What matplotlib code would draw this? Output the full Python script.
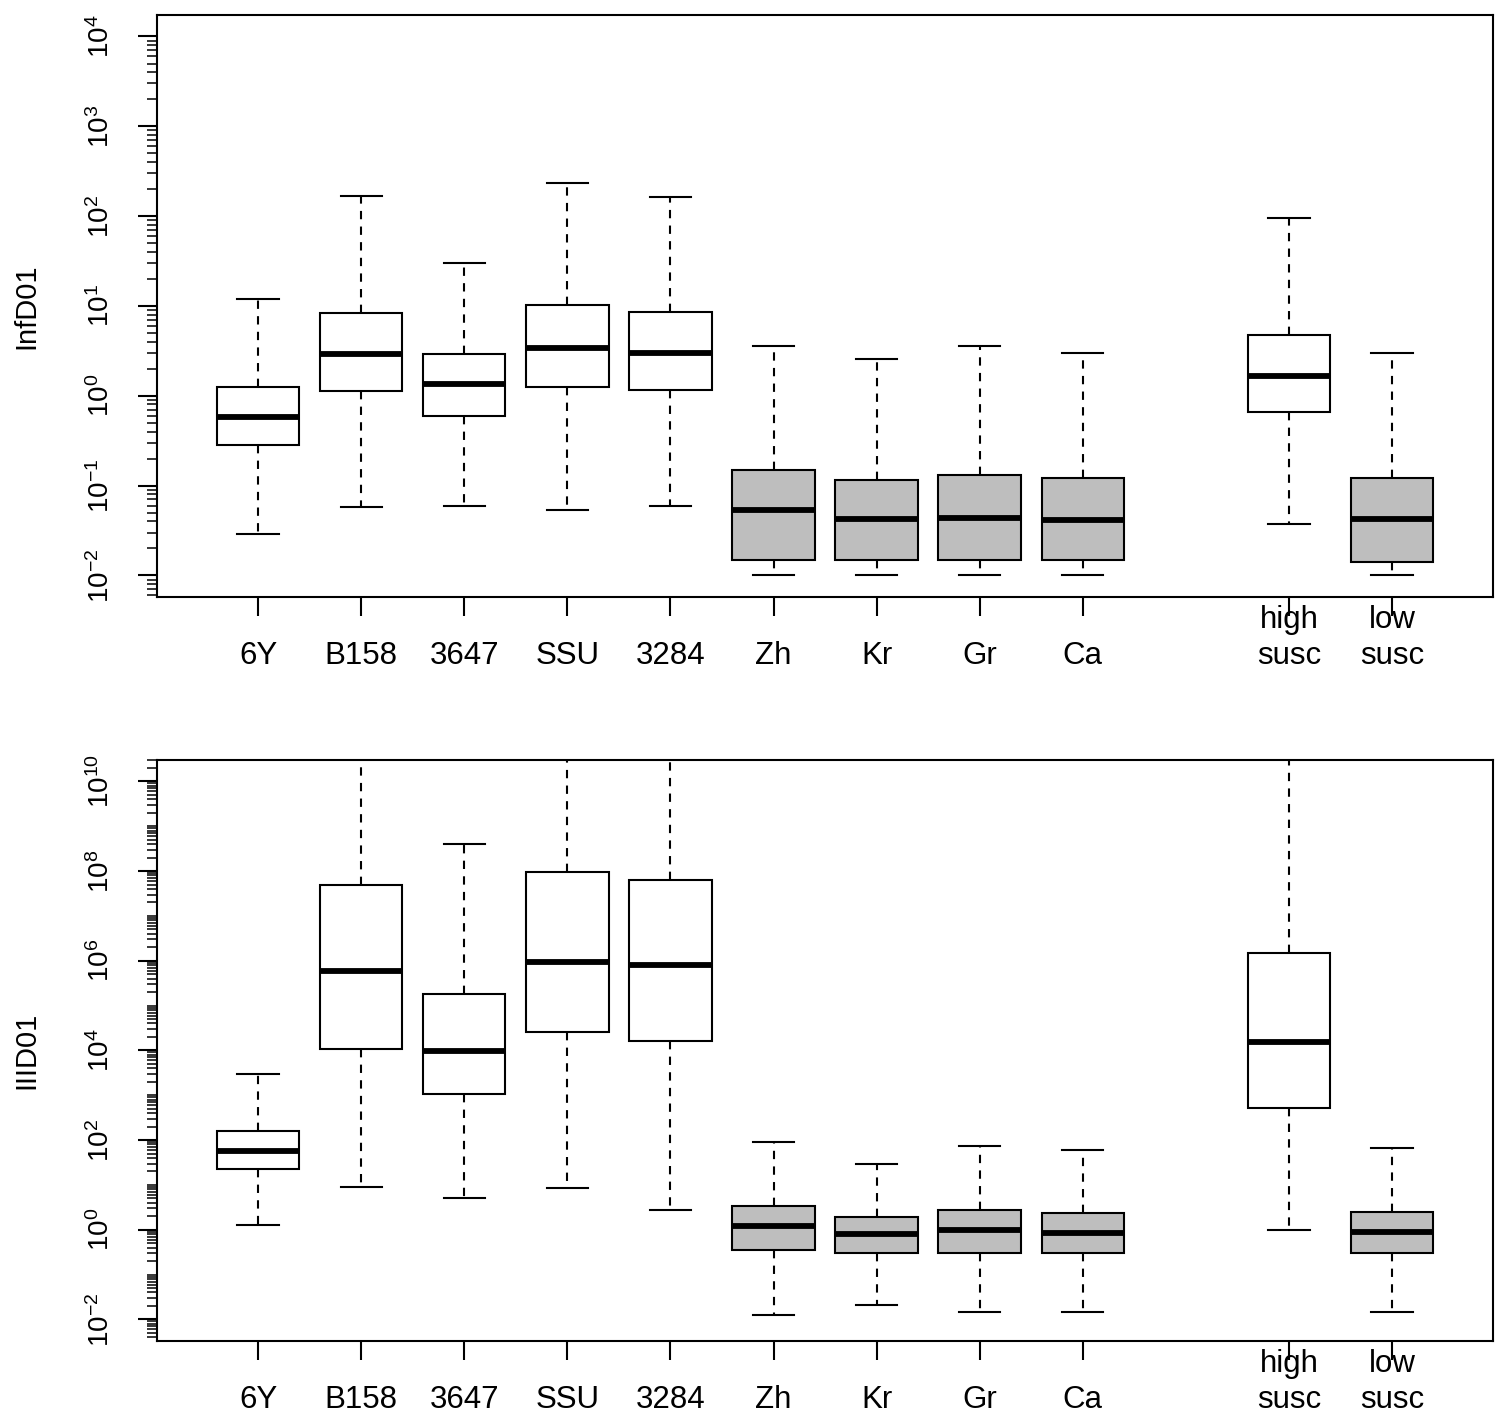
import matplotlib
matplotlib.use("Agg")
import matplotlib.pyplot as plt
from matplotlib.ticker import FixedLocator, FixedFormatter, NullFormatter

plt.rcParams['font.family'] = ['Liberation Sans', 'DejaVu Sans']
plt.rcParams['mathtext.fontset'] = 'custom'
plt.rcParams['mathtext.rm'] = 'Liberation Sans'
plt.rcParams['mathtext.it'] = 'Liberation Sans'
plt.rcParams['mathtext.bf'] = 'Liberation Sans:bold'

# ---------------- data ----------------
labels = ['6Y', 'B158', '3647', 'SSU', '3284', 'Zh', 'Kr', 'Gr', 'Ca', 'high\nsusc', 'low\nsusc']
positions = [1, 2, 3, 4, 5, 6, 7, 8, 9, 11, 12]
fills = ['white'] * 5 + ['#bebebe'] * 4 + ['white', '#bebebe']

# InfD01 (top panel)
inf_whislo = [0.029, 0.058, 0.060, 0.054, 0.059, 0.0102, 0.0102, 0.0102, 0.0102, 0.037, 0.0102]
inf_q1     = [0.28, 1.12, 0.60, 1.24, 1.17, 0.0150, 0.0147, 0.0147, 0.0147, 0.66, 0.0140]
inf_med    = [0.58, 2.9, 1.35, 3.4, 3.0, 0.053, 0.042, 0.044, 0.041, 1.65, 0.043]
inf_q3     = [1.24, 8.3, 2.9, 10.2, 8.5, 0.148, 0.115, 0.130, 0.120, 4.7, 0.123]
inf_whishi = [11.8, 166, 30, 234, 162, 3.55, 2.55, 3.55, 2.97, 95, 3.0]

# IIID01 (bottom panel)
iii_whislo = [1.3, 9.2, 5.2, 8.7, 2.7, 0.0124, 0.021, 0.0145, 0.015, 1.0, 0.015]
iii_q1     = [23, 1.1e4, 1070, 2.6e4, 1.6e4, 0.36, 0.30, 0.30, 0.30, 516, 0.30]
iii_med    = [56, 5.8e5, 9.8e3, 9.2e5, 7.9e5, 1.23, 0.81, 1.0, 0.86, 1.56e4, 0.90]
iii_q3     = [158, 4.9e7, 1.8e5, 9.6e7, 6.3e7, 3.4, 1.96, 2.8, 2.4, 1.5e6, 2.5]
iii_whishi = [3000, 1e12, 4e8, 1e12, 1e12, 89, 30, 73, 59, 1e12, 66]

# ---------------- figure ----------------
fig = plt.figure(figsize=(15, 14.22), dpi=100)
ax_top = fig.add_axes([0.1047, 0.5802, 0.8907, 0.4093])
ax_bot = fig.add_axes([0.1047, 0.0570, 0.8907, 0.4086])

LW = 1.5


def draw_panel(ax, whislo, q1, med, q3, whishi, ylab, major_exps, label_exps, ymin_exp, ymax_exp):
    stats = []
    for lo, a, m, b, hi in zip(whislo, q1, med, q3, whishi):
        stats.append(dict(whislo=lo, q1=a, med=m, q3=b, whishi=hi, fliers=[]))
    bp = ax.bxp(stats, positions=positions, widths=0.8, capwidths=0.4,
                patch_artist=True, showfliers=False,
                boxprops=dict(linewidth=LW, edgecolor='black'),
                medianprops=dict(linewidth=4.2, color='black', solid_capstyle='butt'),
                whiskerprops=dict(linewidth=LW, color='black', linestyle=(0, (4, 3.5))),
                capprops=dict(linewidth=LW, color='black'))
    for patch, fc in zip(bp['boxes'], fills):
        patch.set_facecolor(fc)
    ax.set_yscale('log')
    ax.set_ylim(10 ** ymin_exp, 10 ** ymax_exp)
    ax.set_xlim(0.02, 12.98)

    # y ticks
    majors = [10.0 ** e for e in major_exps]
    minors = []
    lo_e = int(ymin_exp) - 1
    hi_e = int(ymax_exp) + 1
    for e in range(lo_e, hi_e + 1):
        for k in range(1, 10):
            v = k * 10.0 ** e
            if v not in majors:
                minors.append(v)
    ax.yaxis.set_major_locator(FixedLocator(majors))
    ax.yaxis.set_major_formatter(FixedFormatter(
        ['$10^{%d}$' % e if e in label_exps else '' for e in major_exps]))
    ax.yaxis.set_minor_locator(FixedLocator(minors))
    ax.yaxis.set_minor_formatter(NullFormatter())
    ax.tick_params(axis='y', which='major', length=14, width=LW, direction='out',
                   labelsize=20, pad=16, labelrotation=90)
    ax.tick_params(axis='y', which='minor', length=7, width=1.1, direction='out')
    for t in ax.get_yticklabels():
        t.set_va('center')

    # x ticks (labels drawn as text so multi-line labels align at the bottom line)
    ax.set_xticks(positions)
    ax.set_xticklabels([])
    ax.tick_params(axis='x', which='major', length=14, width=LW, direction='out')
    ax.tick_params(axis='x', which='minor', bottom=False)
    for x, lab in zip(positions, labels):
        lines = lab.split('\n')
        for i, line in enumerate(reversed(lines)):
            off = -48 + 26 * i
            ax.annotate(line, xy=(x, 0), xycoords=('data', 'axes fraction'),
                        xytext=(0, off), textcoords='offset points',
                        ha='center', va='baseline', fontsize=22.5, annotation_clip=False)

    for sp in ax.spines.values():
        sp.set_linewidth(LW)
    ax.set_ylabel(ylab, fontsize=21)
    ax.yaxis.set_label_coords(-0.087, 0.5)


draw_panel(ax_top, inf_whislo, inf_q1, inf_med, inf_q3, inf_whishi, 'InfD01',
           major_exps=list(range(-2, 5)), label_exps=list(range(-2, 5)),
           ymin_exp=-2.24, ymax_exp=4.24)
draw_panel(ax_bot, iii_whislo, iii_q1, iii_med, iii_q3, iii_whishi, 'IIID01',
           major_exps=list(range(-2, 11, 2)), label_exps=list(range(-2, 11, 2)),
           ymin_exp=-2.48, ymax_exp=10.48)

fig.savefig('out.png', dpi=100)
